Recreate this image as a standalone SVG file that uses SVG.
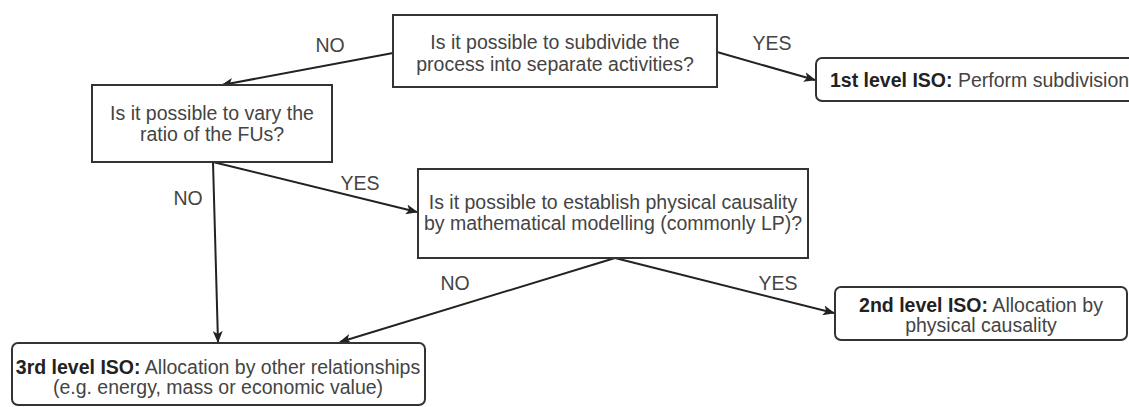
<svg xmlns="http://www.w3.org/2000/svg" width="1129" height="407" viewBox="0 0 1129 407">
<defs>
<style>
.box{fill:#fff;stroke:#333;stroke-width:2}
.t{font-family:"Liberation Sans",Arial,sans-serif;font-size:19.5px;fill:#444;text-anchor:middle}
.b{font-weight:bold;fill:#222}
.ln{fill:none;stroke:#222;stroke-width:2}
.lbl{font-family:"Liberation Sans",Arial,sans-serif;font-size:19.5px;fill:#444;text-anchor:middle}
</style>
<marker id="ah" viewBox="0 0 12 10" refX="11" refY="5" markerWidth="12" markerHeight="10" markerUnits="userSpaceOnUse" orient="auto">
<path d="M0,0 L12,5 L0,10 L3,5 Z" fill="#222"/>
</marker>
</defs>
<rect width="1129" height="407" fill="#fff"/>
<g id="connectors">
<line class="ln" x1="393" y1="53" x2="222" y2="85" marker-end="url(#ah)"/>
<line class="ln" x1="717" y1="52" x2="815" y2="80" marker-end="url(#ah)"/>
<line class="ln" x1="213" y1="162" x2="417" y2="212" marker-end="url(#ah)"/>
<line class="ln" x1="213" y1="162" x2="218" y2="342" marker-end="url(#ah)"/>
<line class="ln" x1="615" y1="258" x2="340" y2="342" marker-end="url(#ah)"/>
<line class="ln" x1="615" y1="258" x2="834" y2="313" marker-end="url(#ah)"/>
<text class="lbl" x="330" y="52">NO</text>
<text class="lbl" x="772" y="50">YES</text>
<text class="lbl" x="188" y="205">NO</text>
<text class="lbl" x="360" y="190">YES</text>
<text class="lbl" x="455" y="290">NO</text>
<text class="lbl" x="778" y="290">YES</text>
</g>
<g id="q1">
<rect class="box" x="393" y="15" width="324" height="72"/>
<text class="t" x="555" y="49">Is it possible to subdivide the</text>
<text class="t" x="555" y="71">process into separate activities?</text>
</g>
<g id="iso1">
<rect class="box" x="816" y="58" width="330" height="43" rx="6"/>
<text class="t" x="830" y="87" style="text-anchor:start"><tspan class="b">1st level ISO:</tspan> Perform subdivision</text>
</g>
<g id="q2">
<rect class="box" x="92" y="85" width="240" height="77"/>
<text class="t" x="212" y="120">Is it possible to vary the</text>
<text class="t" x="212" y="141">ratio of the FUs?</text>
</g>
<g id="q3">
<rect class="box" x="418" y="169" width="390" height="89"/>
<text class="t" x="613" y="209">Is it possible to establish physical causality</text>
<text class="t" x="613" y="230">by mathematical modelling (commonly LP)?</text>
</g>
<g id="iso2">
<rect class="box" x="835" y="287" width="292" height="53" rx="6"/>
<text class="t" x="981" y="312"><tspan class="b">2nd level ISO:</tspan> Allocation by</text>
<text class="t" x="981" y="332">physical causality</text>
</g>
<g id="iso3">
<rect class="box" x="12" y="343" width="413" height="62" rx="6"/>
<text class="t" x="218" y="374"><tspan class="b">3rd level ISO:</tspan> Allocation by other relationships</text>
<text class="t" x="218" y="394">(e.g. energy, mass or economic value)</text>
</g>
</svg>
